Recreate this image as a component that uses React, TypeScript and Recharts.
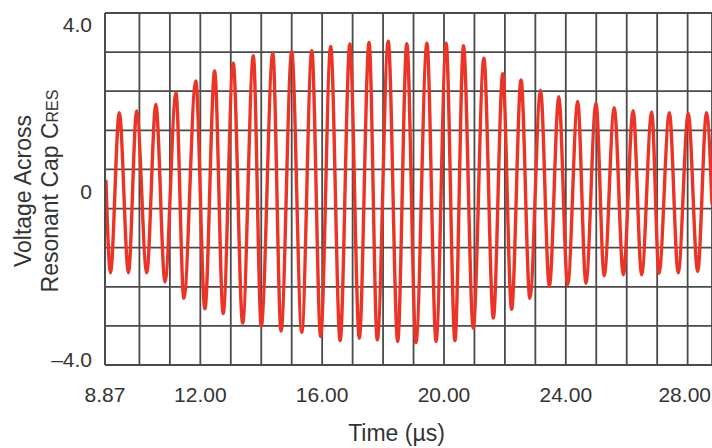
import { LineChart, Line, XAxis, YAxis, CartesianGrid } from "recharts";

const times = [
  8.9, 9.05, 9.34, 9.64, 9.91, 10.24, 10.54, 10.84, 11.2, 11.46, 11.85, 12.15,
  12.47, 12.75, 13.08, 13.39, 13.74, 14.0, 14.38, 14.65, 15.0, 15.33, 15.66,
  15.95, 16.28, 16.59, 16.91, 17.22, 17.54, 17.81, 18.17, 18.48, 18.78, 19.08,
  19.44, 19.74, 20.07, 20.36, 20.64, 20.96, 21.31, 21.62, 21.93, 22.22, 22.53,
  22.82, 23.17, 23.46, 23.77, 24.06, 24.39, 24.66, 24.99, 25.26, 25.59, 25.89,
  26.21, 26.49, 26.82, 27.06, 27.4, 27.69, 28.02, 28.33, 28.62, 28.8,
];
const volts = [
  0.29, -1.93, 1.89, -1.93, 1.93, -1.93, 2.09, -2.15, 2.36, -2.54, 2.65, -2.79,
  2.89, -2.9, 3.07, -3.13, 3.25, -3.2, 3.31, -3.32, 3.35, -3.35, 3.37, -3.45,
  3.47, -3.55, 3.53, -3.49, 3.57, -3.53, 3.6, -3.57, 3.54, -3.6, 3.55, -3.57,
  3.55, -3.55, 3.49, -3.25, 3.19, -3.01, 2.82, -2.8, 2.67, -2.54, 2.43, -2.26,
  2.27, -2.22, 2.16, -2.18, 2.12, -2.0, 2.01, -1.98, 1.94, -1.98, 1.91, -1.94,
  1.89, -1.93, 1.87, -1.9, 1.89, -0.3,
];

// labelled ticks, plus one grid division per microsecond
const xLabels = [8.87, 12, 16, 20, 24, 28];
const xTicks = [8.87, 10, 11, 12, 13, 14, 15, 16, 17, 18, 19, 20, 21, 22, 23, 24, 25, 26, 27, 28];
const yTicks = [-4, 0, 4];
// the scope screen has 9 equal vertical divisions
const yGridTicks = [0, 1, 2, 3, 4, 5, 6, 7, 8, 9];

const data = times.map((t, i) => ({ t, v: volts[i] }));

const W = 712;
const H = 448;
const FONT = "'Liberation Sans', Arial, Helvetica, sans-serif";
const TEXT = "#333";
const GRID = "#4a4a4a";

const fmtY = (v: number) => (v === 0 ? "0" : v < 0 ? `\u2013${Math.abs(v).toFixed(1)}` : v.toFixed(1));

// bottom tick: only the labelled values get text, and the last one is kept inside the frame
const TimeTick = ({ x, y, payload }: any) => {
  const v = payload.value;
  if (!xLabels.includes(v)) return null;
  const nearEdge = x + 27 > W;
  return (
    <text
      x={nearEdge ? W - 1 : x}
      y={y}
      dy="0.71em"
      textAnchor={nearEdge ? "end" : "middle"}
      fontSize={21}
      fontFamily={FONT}
      fill={TEXT}
    >
      {v.toFixed(2)}
    </text>
  );
};

const XTitle = ({ viewBox }: any) => (
  <text
    x={viewBox.x + viewBox.width / 2 - 12}
    y={viewBox.y + viewBox.height - 7}
    textAnchor="middle"
    fontSize={23}
    fontFamily={FONT}
    fill={TEXT}
  >
    Time (µs)
  </text>
);

const YTitle = ({ viewBox }: any) => {
  const cy = viewBox.y + viewBox.height / 2 + 2;
  return (
    <g fontFamily={FONT} fill={TEXT} fontSize={23}>
      <text x={31} y={cy} transform={`rotate(-90 31 ${cy})`} textAnchor="middle">
        Voltage Across
      </text>
      <text x={58} y={cy} transform={`rotate(-90 58 ${cy})`} textAnchor="middle">
        Resonant Cap C<tspan fontSize={16}>RES</tspan>
      </text>
    </g>
  );
};

export default function App() {
  return (
    <div style={{ position: "absolute", left: 0, top: 0, background: "#fff" }}>
      <LineChart width={W} height={H} data={data} margin={{ top: 13, right: 0, bottom: 0, left: 0 }}>
        <CartesianGrid yAxisId="grid" stroke={GRID} strokeWidth={1.8} />
        <XAxis
          dataKey="t"
          type="number"
          domain={[8.87, 28.8]}
          allowDataOverflow
          ticks={xTicks}
          interval={0}
          height={83}
          tickLine={false}
          tickSize={0}
          tickMargin={22}
          axisLine={{ stroke: GRID, strokeWidth: 1.8 }}
          tick={<TimeTick />}
          label={<XTitle />}
        />
        <YAxis
          type="number"
          domain={[-4.13, 4.27]}
          allowDataOverflow
          ticks={yTicks}
          interval={0}
          tickFormatter={fmtY}
          width={105}
          tickLine={false}
          tickSize={0}
          tickMargin={13}
          axisLine={{ stroke: GRID, strokeWidth: 1.8 }}
          tick={{ fontSize: 21, fontFamily: FONT, fill: TEXT }}
          label={<YTitle />}
        />
        <YAxis yAxisId="grid" type="number" domain={[0, 9]} ticks={yGridTicks} allowDataOverflow hide />
        <Line
          type="monotone"
          dataKey="v"
          stroke="#ec3426"
          strokeWidth={3.4}
          dot={false}
          isAnimationActive={false}
        />
      </LineChart>
    </div>
  );
}
